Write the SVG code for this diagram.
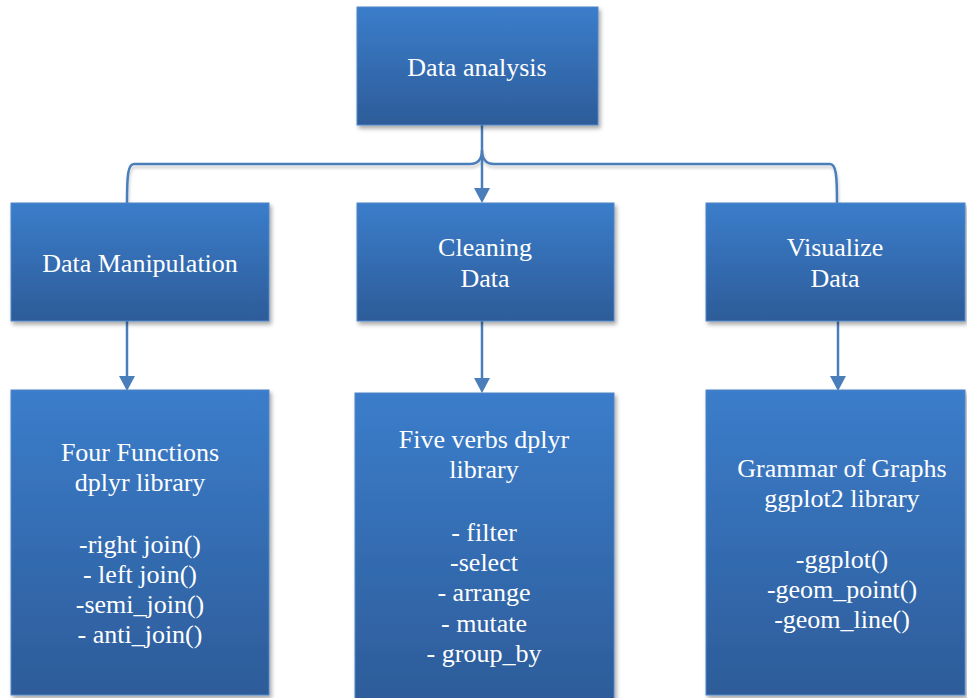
<svg xmlns="http://www.w3.org/2000/svg" width="967" height="698" viewBox="0 0 967 698">
<defs>
<linearGradient id="g" x1="0" y1="0" x2="0" y2="1">
<stop offset="0" stop-color="#3b7dcb"/>
<stop offset="1" stop-color="#2d5c99"/>
</linearGradient>
<filter id="sh" x="-10%" y="-10%" width="120%" height="120%">
<feDropShadow dx="2" dy="3" stdDeviation="2" flood-color="#000" flood-opacity="0.35"/>
</filter>
<filter id="lsh" x="-5%" y="-50%" width="110%" height="200%">
<feDropShadow dx="1" dy="3" stdDeviation="1.5" flood-color="#000" flood-opacity="0.2"/>
</filter>
</defs>
<style>
.box{fill:url(#g);stroke:#4f86c6;stroke-width:1;filter:url(#sh);}
.c{fill:none;stroke:#4a7ebb;stroke-width:2.5;}
.ar{fill:#4a7ebb;}
</style>
<g id="connectors">
<path class="c" filter="url(#lsh)" d="M127,203 C127,175 128,164 134,164 L470,164 C478,164 482,160 482,150 C482,160 486,164 494,164 L830,164 C836,164 837,175 837,203"/>
<line class="c" x1="482" y1="125" x2="482" y2="190"/>
<path class="ar" d="M474,188 L490,188 L482,203 Z"/>
<line class="c" x1="127" y1="321" x2="127" y2="378"/>
<path class="ar" d="M119,376 L135,376 L127,391 Z"/>
<line class="c" x1="482" y1="321" x2="482" y2="380"/>
<path class="ar" d="M474,378 L490,378 L482,393 Z"/>
<line class="c" x1="838" y1="321" x2="838" y2="378"/>
<path class="ar" d="M830,376 L846,376 L838,391 Z"/>
</g>
<g id="n-data-analysis">
<rect class="box" x="357" y="7" width="241" height="118"/>
<text font-family="Liberation Serif" font-size="26" fill="#ffffff" text-anchor="middle" x="477" y="76">Data analysis</text>
</g>
<g id="n-data-manipulation">
<rect class="box" x="11" y="203" width="258" height="118"/>
<text font-family="Liberation Serif" font-size="26" fill="#ffffff" text-anchor="middle" x="140" y="272">Data Manipulation</text>
</g>
<g id="n-cleaning-data">
<rect class="box" x="357" y="203" width="257" height="118"/>
<text font-family="Liberation Serif" font-size="26" fill="#ffffff" text-anchor="middle" x="485" y="256">Cleaning</text>
<text font-family="Liberation Serif" font-size="26" fill="#ffffff" text-anchor="middle" x="485" y="287">Data</text>
</g>
<g id="n-visualize-data">
<rect class="box" x="706" y="203" width="259" height="118"/>
<text font-family="Liberation Serif" font-size="26" fill="#ffffff" text-anchor="middle" x="835" y="256">Visualize</text>
<text font-family="Liberation Serif" font-size="26" fill="#ffffff" text-anchor="middle" x="835" y="287">Data</text>
</g>
<g id="n-four-functions">
<rect class="box" x="11" y="390" width="258" height="305"/>
<text font-family="Liberation Serif" font-size="26" fill="#ffffff" text-anchor="middle" x="140" y="461">Four Functions</text>
<text font-family="Liberation Serif" font-size="26" fill="#ffffff" text-anchor="middle" x="140" y="491">dplyr library</text>
<text font-family="Liberation Serif" font-size="26" fill="#ffffff" text-anchor="middle" x="140" y="553">-right join()</text>
<text font-family="Liberation Serif" font-size="26" fill="#ffffff" text-anchor="middle" x="140" y="583">- left join()</text>
<text font-family="Liberation Serif" font-size="26" fill="#ffffff" text-anchor="middle" x="140" y="613">-semi_join()</text>
<text font-family="Liberation Serif" font-size="26" fill="#ffffff" text-anchor="middle" x="140" y="643">- anti_join()</text>
</g>
<g id="n-five-verbs">
<rect class="box" x="355" y="393" width="259" height="310"/>
<text font-family="Liberation Serif" font-size="26" fill="#ffffff" text-anchor="middle" x="484" y="448">Five verbs dplyr</text>
<text font-family="Liberation Serif" font-size="26" fill="#ffffff" text-anchor="middle" x="484" y="478">library</text>
<text font-family="Liberation Serif" font-size="26" fill="#ffffff" text-anchor="middle" x="484" y="541">- filter</text>
<text font-family="Liberation Serif" font-size="26" fill="#ffffff" text-anchor="middle" x="484" y="571">-select</text>
<text font-family="Liberation Serif" font-size="26" fill="#ffffff" text-anchor="middle" x="484" y="601">- arrange</text>
<text font-family="Liberation Serif" font-size="26" fill="#ffffff" text-anchor="middle" x="484" y="632">- mutate</text>
<text font-family="Liberation Serif" font-size="26" fill="#ffffff" text-anchor="middle" x="484" y="662">- group_by</text>
</g>
<g id="n-grammar">
<rect class="box" x="706" y="390" width="259" height="305"/>
<text font-family="Liberation Serif" font-size="26" fill="#ffffff" text-anchor="middle" x="842" y="477">Grammar of Graphs</text>
<text font-family="Liberation Serif" font-size="26" fill="#ffffff" text-anchor="middle" x="842" y="507">ggplot2 library</text>
<text font-family="Liberation Serif" font-size="26" fill="#ffffff" text-anchor="middle" x="842" y="568">-ggplot()</text>
<text font-family="Liberation Serif" font-size="26" fill="#ffffff" text-anchor="middle" x="842" y="598">-geom_point()</text>
<text font-family="Liberation Serif" font-size="26" fill="#ffffff" text-anchor="middle" x="842" y="628">-geom_line()</text>
</g>
</svg>
